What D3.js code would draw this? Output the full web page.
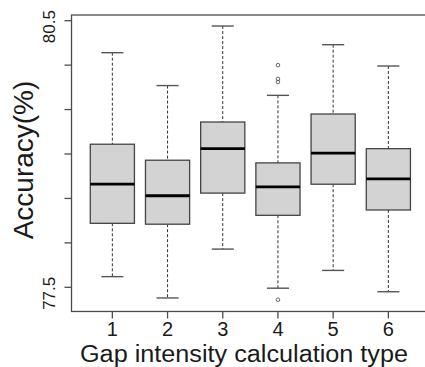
<!DOCTYPE html>
<html>
<head>
<meta charset="utf-8">
<script src="https://cdn.jsdelivr.net/npm/d3@7"></script>
<style>
html,body{margin:0;padding:0;background:#fff;}
svg{display:block;}
text{font-family:"Liberation Sans",Arial,Helvetica,sans-serif;fill:#1a1a1a;}
</style>
</head>
<body>
<svg id="chart" width="425" height="367"></svg>
<script>
const categories = [1, 2, 3, 4, 5, 6];
const lowerWhisker = [77.62, 77.38, 77.93, 77.49, 77.69, 77.45];
const q1 = [78.22, 78.21, 78.56, 78.31, 78.66, 78.37];
const median = [78.66, 78.53, 79.06, 78.63, 79.01, 78.72];
const q3 = [79.11, 78.93, 79.36, 78.90, 79.45, 79.06];
const upperWhisker = [80.14, 79.77, 80.44, 79.66, 80.23, 79.99];
const outlierCategory = [4, 4, 4, 4];
const outlierValue = [80.00, 79.845, 79.81, 77.36];
const yTicks = [77.5, 78, 78.5, 79, 79.5, 80, 80.5];
const yTickLabels = ["77.5", "", "", "", "", "", "80.5"];
const xTitle = "Gap intensity calculation type";
const yTitle = "Accuracy(%)";

const svg = d3.select("#chart");
const x = d3.scaleLinear().domain([0.26, 6.74]).range([71.5, 429.2]);
const y = d3.scaleLinear().domain([77.5, 80.5]).range([287.3, 20.7]);
const plotTop = y(80.564), plotBottom = y(77.228);
const halfBox = (x(1.4) - x(1));
const halfCap = halfBox / 2;

// plot frame (right side falls outside the canvas)
svg.append("rect")
  .attr("x", x(0.26)).attr("y", plotTop)
  .attr("width", x(6.74) - x(0.26)).attr("height", plotBottom - plotTop)
  .attr("fill", "none").attr("stroke", "#4d4d4d").attr("stroke-width", 1.3);

const data = categories.map((c, i) => ({c, lo: lowerWhisker[i], q1: q1[i], med: median[i], q3: q3[i], hi: upperWhisker[i]}));

const g = svg.append("g");
const boxes = g.selectAll("g.box").data(data).join("g").attr("class", "box");

// whiskers (dashed)
boxes.append("line")
  .attr("x1", d => x(d.c)).attr("x2", d => x(d.c))
  .attr("y1", d => y(d.hi)).attr("y2", d => y(d.q3))
  .attr("stroke", "#333").attr("stroke-width", 1).attr("stroke-dasharray", "3,2");
boxes.append("line")
  .attr("x1", d => x(d.c)).attr("x2", d => x(d.c))
  .attr("y1", d => y(d.q1)).attr("y2", d => y(d.lo))
  .attr("stroke", "#333").attr("stroke-width", 1).attr("stroke-dasharray", "3,2");
// caps
boxes.append("line")
  .attr("x1", d => x(d.c) - halfCap).attr("x2", d => x(d.c) + halfCap)
  .attr("y1", d => y(d.hi)).attr("y2", d => y(d.hi))
  .attr("stroke", "#555").attr("stroke-width", 1.4);
boxes.append("line")
  .attr("x1", d => x(d.c) - halfCap).attr("x2", d => x(d.c) + halfCap)
  .attr("y1", d => y(d.lo)).attr("y2", d => y(d.lo))
  .attr("stroke", "#555").attr("stroke-width", 1.4);
// box
boxes.append("rect")
  .attr("x", d => x(d.c) - halfBox).attr("width", 2 * halfBox)
  .attr("y", d => y(d.q3)).attr("height", d => y(d.q1) - y(d.q3))
  .attr("fill", "#d3d3d3").attr("stroke", "#444").attr("stroke-width", 1.3);
// median
boxes.append("line")
  .attr("x1", d => x(d.c) - halfBox).attr("x2", d => x(d.c) + halfBox)
  .attr("y1", d => y(d.med)).attr("y2", d => y(d.med))
  .attr("stroke", "#000").attr("stroke-width", 2.8);

// outliers
g.selectAll("circle.out").data(outlierValue.map((v, i) => ({c: outlierCategory[i], v})))
  .join("circle").attr("class", "out")
  .attr("cx", d => x(d.c)).attr("cy", d => y(d.v)).attr("r", 1.8)
  .attr("fill", "none").attr("stroke", "#555").attr("stroke-width", 0.9);

// y axis ticks
const yAxisG = svg.append("g");
yAxisG.selectAll("line").data(yTicks).join("line")
  .attr("x1", x(0.26) - 7).attr("x2", x(0.26))
  .attr("y1", d => y(d)).attr("y2", d => y(d))
  .attr("stroke", "#4d4d4d").attr("stroke-width", 1.3);
yAxisG.selectAll("text").data(yTicks).join("text")
  .text((d, i) => yTickLabels[i])
  .attr("transform", d => `translate(${x(0.26) - 17},${y(d) + 6}) rotate(-90)`)
  .attr("text-anchor", "middle")
  .style("font-size", "17px");

// x axis ticks
const xAxisG = svg.append("g");
xAxisG.selectAll("line").data(categories).join("line")
  .attr("x1", d => x(d)).attr("x2", d => x(d))
  .attr("y1", plotBottom).attr("y2", plotBottom + 7)
  .attr("stroke", "#4d4d4d").attr("stroke-width", 1.3);
xAxisG.selectAll("text").data(categories).join("text")
  .text(d => d)
  .attr("x", d => x(d)).attr("y", 336)
  .attr("text-anchor", "middle")
  .style("font-size", "20px");

// titles
svg.append("text").text(xTitle)
  .attr("x", 244).attr("y", 362)
  .attr("text-anchor", "middle")
  .attr("textLength", 328).attr("lengthAdjust", "spacingAndGlyphs")
  .style("font-size", "23px");
svg.append("text").text(yTitle)
  .attr("transform", `translate(33,160) rotate(-90)`)
  .attr("text-anchor", "middle")
  .style("font-size", "28px");
</script>
</body>
</html>
